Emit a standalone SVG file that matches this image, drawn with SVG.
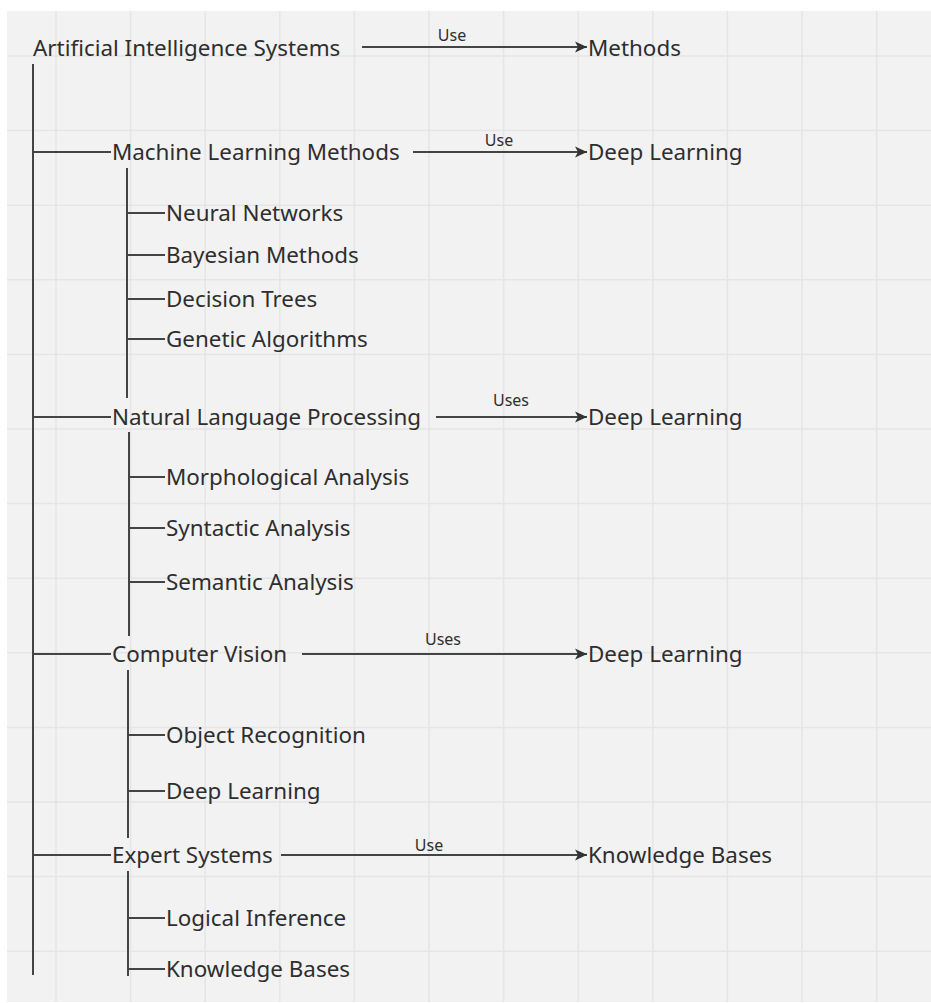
<svg xmlns="http://www.w3.org/2000/svg" width="931" height="1003" viewBox="0 0 931 1003">
<style>
.bg{fill:#f2f2f2}
.grid line{stroke:#e5e5e5;stroke-width:1.5}
.t{font-family:"Noto Sans","Open Sans","Liberation Sans",sans-serif;font-size:22.4px;fill:#2e2e2e}
.lbl{font-family:"Noto Sans","Open Sans","Liberation Sans",sans-serif;font-size:16px;fill:#2e2e2e;text-anchor:middle}
.tree{stroke:#444;stroke-width:2;fill:none}
.arr{stroke:#444;stroke-width:2;fill:none;marker-end:url(#ah)}
</style>
<defs>
<marker id="ah" markerUnits="userSpaceOnUse" markerWidth="13" markerHeight="12" refX="12" refY="6" orient="auto">
<path d="M0,0.5 L12,6 L0,11.5 L3,6 z" fill="#333"/>
</marker>
</defs>
<rect width="931" height="1003" fill="#ffffff"/>
<rect class="bg" x="7" y="11" width="924" height="991"/>
<g class="grid">
<line x1="56" y1="11" x2="56" y2="1002"/>
<line x1="130.6" y1="11" x2="130.6" y2="1002"/>
<line x1="205.2" y1="11" x2="205.2" y2="1002"/>
<line x1="279.8" y1="11" x2="279.8" y2="1002"/>
<line x1="354.4" y1="11" x2="354.4" y2="1002"/>
<line x1="429" y1="11" x2="429" y2="1002"/>
<line x1="503.6" y1="11" x2="503.6" y2="1002"/>
<line x1="578.2" y1="11" x2="578.2" y2="1002"/>
<line x1="652.8" y1="11" x2="652.8" y2="1002"/>
<line x1="727.4" y1="11" x2="727.4" y2="1002"/>
<line x1="802" y1="11" x2="802" y2="1002"/>
<line x1="876.6" y1="11" x2="876.6" y2="1002"/>
<line x1="7" y1="56" x2="931" y2="56"/>
<line x1="7" y1="130.6" x2="931" y2="130.6"/>
<line x1="7" y1="205.2" x2="931" y2="205.2"/>
<line x1="7" y1="279.8" x2="931" y2="279.8"/>
<line x1="7" y1="354.4" x2="931" y2="354.4"/>
<line x1="7" y1="429" x2="931" y2="429"/>
<line x1="7" y1="503.6" x2="931" y2="503.6"/>
<line x1="7" y1="578.2" x2="931" y2="578.2"/>
<line x1="7" y1="652.8" x2="931" y2="652.8"/>
<line x1="7" y1="727.4" x2="931" y2="727.4"/>
<line x1="7" y1="802" x2="931" y2="802"/>
<line x1="7" y1="876.6" x2="931" y2="876.6"/>
<line x1="7" y1="951.2" x2="931" y2="951.2"/>
</g>
<g id="connectors">
<path class="tree" d="M33,64 V975"/>
<path class="tree" d="M33,152 H111 M33,417 H111 M33,654 H111 M33,855 H111"/>
<path class="tree" d="M127,168 V398 M127,213 H165 M127,255 H165 M127,299 H165 M127,339 H165"/>
<path class="tree" d="M129,432 V636 M129,477 H165 M129,528 H165 M129,582 H165"/>
<path class="tree" d="M128,670 V838 M128,735 H165 M128,791 H165"/>
<path class="tree" d="M128,871 V976 M128,918 H165 M128,969 H165"/>
<line class="arr" x1="362" y1="47" x2="587" y2="47"/>
<text class="lbl" x="452" y="41">Use</text>
<line class="arr" x1="413" y1="152" x2="587" y2="152"/>
<text class="lbl" x="499" y="146">Use</text>
<line class="arr" x1="436" y1="417" x2="587" y2="417"/>
<text class="lbl" x="511" y="406">Uses</text>
<line class="arr" x1="302" y1="654" x2="587" y2="654"/>
<text class="lbl" x="443" y="645">Uses</text>
<line class="arr" x1="281" y1="855" x2="587" y2="855"/>
<text class="lbl" x="429" y="851">Use</text>
</g>
<g id="root"><text class="t" x="33" y="56">Artificial Intelligence Systems</text></g>
<g id="methods"><text class="t" x="588" y="56">Methods</text></g>
<g id="ml"><text class="t" x="112" y="160">Machine Learning Methods</text></g>
<g id="ml-dl"><text class="t" x="588" y="160">Deep Learning</text></g>
<g id="nn"><text class="t" x="166" y="221">Neural Networks</text></g>
<g id="bayes"><text class="t" x="166" y="263">Bayesian Methods</text></g>
<g id="dt"><text class="t" x="166" y="307">Decision Trees</text></g>
<g id="ga"><text class="t" x="166" y="347">Genetic Algorithms</text></g>
<g id="nlp"><text class="t" x="112" y="425">Natural Language Processing</text></g>
<g id="nlp-dl"><text class="t" x="588" y="425">Deep Learning</text></g>
<g id="morph"><text class="t" x="166" y="485">Morphological Analysis</text></g>
<g id="synt"><text class="t" x="166" y="536">Syntactic Analysis</text></g>
<g id="sem"><text class="t" x="166" y="590">Semantic Analysis</text></g>
<g id="cv"><text class="t" x="112" y="662">Computer Vision</text></g>
<g id="cv-dl"><text class="t" x="588" y="662">Deep Learning</text></g>
<g id="objrec"><text class="t" x="166" y="743">Object Recognition</text></g>
<g id="cv-dl2"><text class="t" x="166" y="799">Deep Learning</text></g>
<g id="es"><text class="t" x="112" y="863">Expert Systems</text></g>
<g id="es-kb"><text class="t" x="588" y="863">Knowledge Bases</text></g>
<g id="li"><text class="t" x="166" y="926">Logical Inference</text></g>
<g id="kb"><text class="t" x="166" y="977">Knowledge Bases</text></g>
</svg>
